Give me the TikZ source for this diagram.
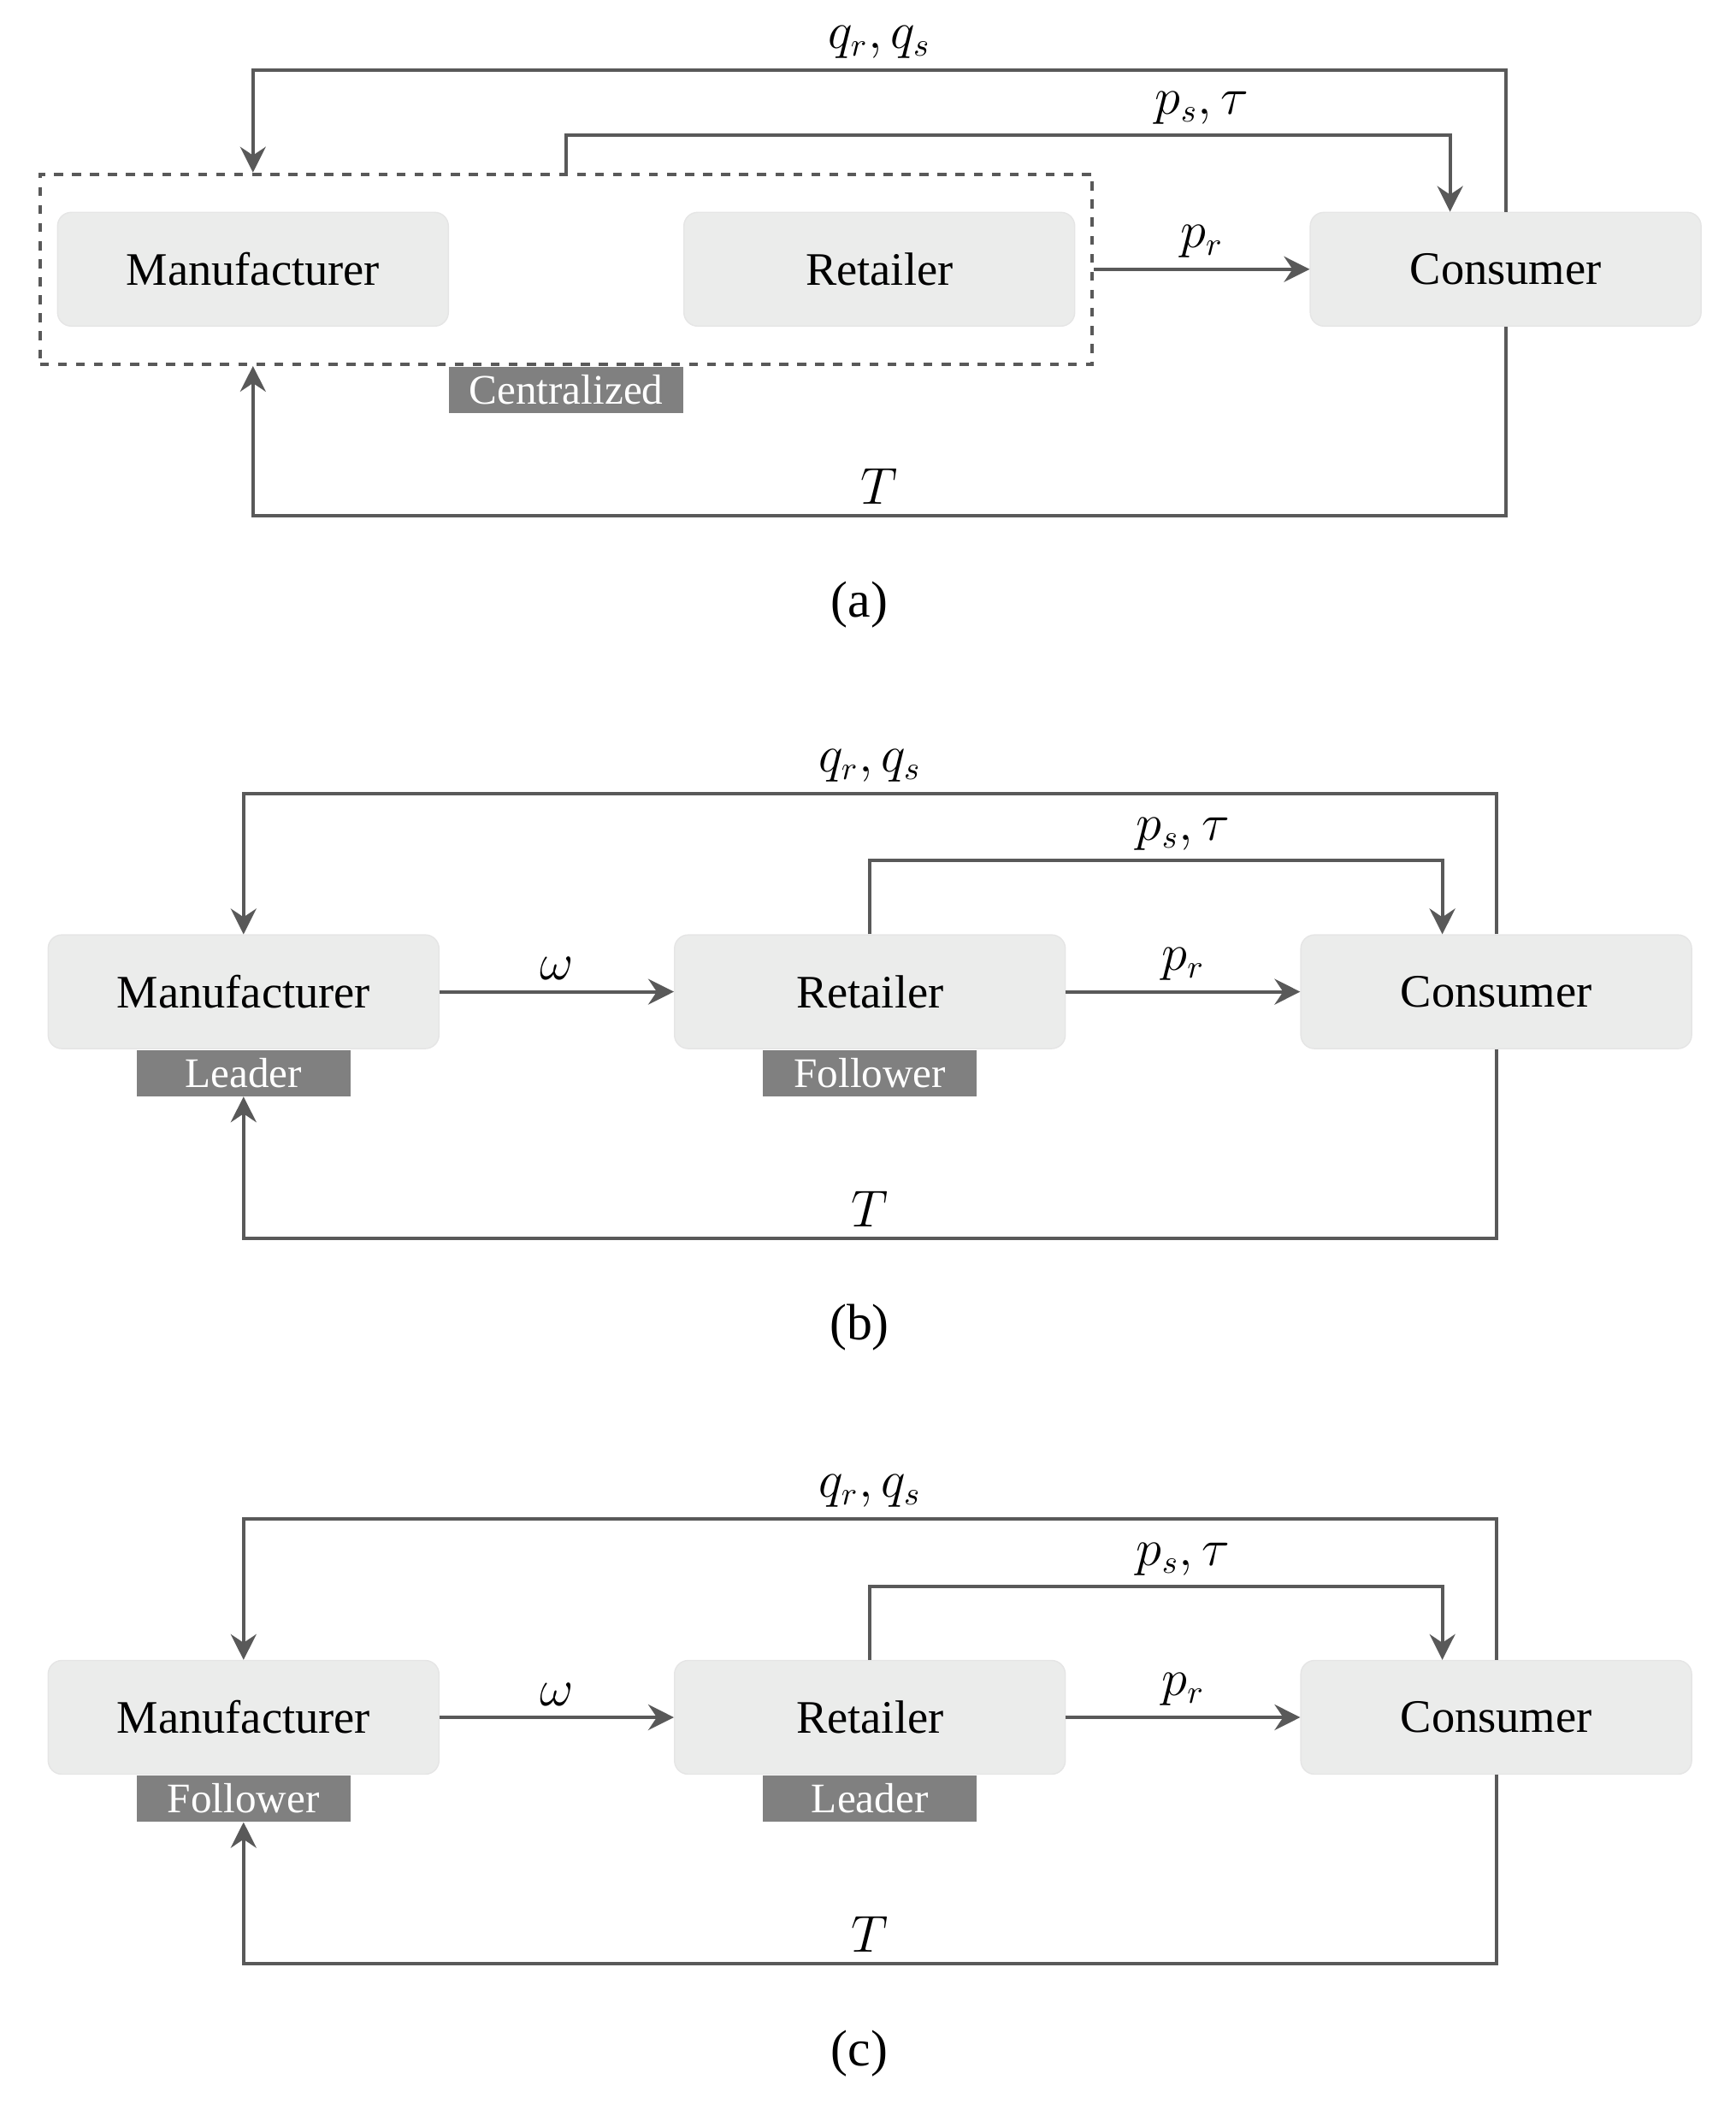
\documentclass[tikz,border=0pt]{standalone}
\usepackage{fontspec}
\setmainfont{Liberation Serif}
\usepackage{tikz}
\usetikzlibrary{positioning, fit, arrows.meta}
\definecolor{boxgray}{RGB}{235,236,235}
\definecolor{taggray}{RGB}{128,128,128}
\definecolor{linegray}{RGB}{89,89,89}
\tikzstyle{arrow} = [line width=1.1pt,draw=linegray,->,>={Stealth[length=0.3cm,width=0.3cm,inset=0.1cm]}]

\begin{document}
\begin{tikzpicture}[
			node distance=2.74cm,
			actor/.style={rectangle, rounded corners=0.16cm, fill=boxgray, draw=black!10, minimum width=4.57cm, minimum height=1.33cm, font=\fontsize{15.5}{18}\selectfont},
			tag/.style={rectangle, fill=taggray, text=white, minimum width=2.5cm, minimum height=0.54cm, inner sep=0pt, font=\fontsize{14}{16}\selectfont},
			lbl/.style={font=\fontsize{16}{19}\selectfont}
			]
			\useasboundingbox (0,0) rectangle (20.30,-24.80);
			
			% (a) centralized
			\node[actor] (ma) at (2.958,-3.148) {Manufacturer};
			\node[actor, right=of ma] (ra) {Retailer};
			\node[actor, right=of ra] (ca) {Consumer};
			\node[draw=linegray, dashed, line width=1.1pt, fit=(ma)(ra), inner xsep=0.2cm, inner ysep=0.44cm] (cent) {};
			\node[tag, below=0pt of cent, minimum width=2.74cm] (tcent) {Centralized};
			
			\draw[arrow] (cent.east |- ra) -- node[lbl, above] (pra) {$p_r$} (ca);
			\draw[arrow] (ca.north) -- ++(0,1.66) -| node[lbl, pos=0.25, above] (qa) {$q_r, q_s$} (ma |- cent.north);
			\draw[arrow] (cent.north) -- ++(0,0.44) coordinate (psa) -| ([xshift=-0.65cm]ca.north);
			\node[lbl, above] (pta) at (pra |- psa) {$p_s,\tau$};
			\draw[arrow] (ca.south) -- ++(0,-2.21) -| node[lbl, pos=0.25, above] (ta) {$T$} (ma |- cent.south);
			\node[lbl, font=\fontsize{17}{20}\selectfont] (capa) at (10.05,-7.07) {(a)};
			
			% (b) manufacturer leads
			\node[actor] (mb) at (2.848,-11.596) {Manufacturer};
			\node[actor, right=of mb] (rb) {Retailer};
			\node[actor, right=of rb] (cb) {Consumer};
			\node[tag, below=0pt of mb] (tmb) {Leader};
			\node[tag, below=0pt of rb] (trb) {Follower};
			
			\draw[arrow] (mb) -- node[lbl, above] (wb) {$\omega$} (rb);
			\draw[arrow] (rb) -- node[lbl, above] (prb) {$p_r$} (cb);
			\draw[arrow] (cb.north) -- ++(0,1.645) -| node[lbl, pos=0.25, above] (qb) {$q_r, q_s$} (mb);
			\draw[arrow] (rb.north) -- ++(0,0.86) coordinate (psb) -| ([xshift=-0.63cm]cb.north);
			\node[lbl, above] (ptb) at (prb |- psb) {$p_s,\tau$};
			\draw[arrow] (cb.south) -- ++(0,-2.21) -| node[lbl, pos=0.25, above] (tb) {$T$} (tmb);
			\node[lbl, font=\fontsize{17}{20}\selectfont] (capb) at (10.05,-15.52) {(b)};
			
			% (c) retailer leads
			\node[actor] (mc) at (2.848,-20.08) {Manufacturer};
			\node[actor, right=of mc] (rc) {Retailer};
			\node[actor, right=of rc] (cc) {Consumer};
			\node[tag, below=0pt of mc] (tmc) {Follower};
			\node[tag, below=0pt of rc] (trc) {Leader};
			
			\draw[arrow] (mc) -- node[lbl, above] (wc) {$\omega$} (rc);
			\draw[arrow] (rc) -- node[lbl, above] (prc) {$p_r$} (cc);
			\draw[arrow] (cc.north) -- ++(0,1.645) -| node[lbl, pos=0.25, above] (qc) {$q_r, q_s$} (mc);
			\draw[arrow] (rc.north) -- ++(0,0.86) coordinate (psc) -| ([xshift=-0.63cm]cc.north);
			\node[lbl, above] (ptc) at (prc |- psc) {$p_s,\tau$};
			\draw[arrow] (cc.south) -- ++(0,-2.21) -| node[lbl, pos=0.25, above] (tc) {$T$} (tmc);
			\node[lbl, font=\fontsize{17}{20}\selectfont] (capc) at (10.05,-24.01) {(c)};
		\end{tikzpicture}
\end{document}
